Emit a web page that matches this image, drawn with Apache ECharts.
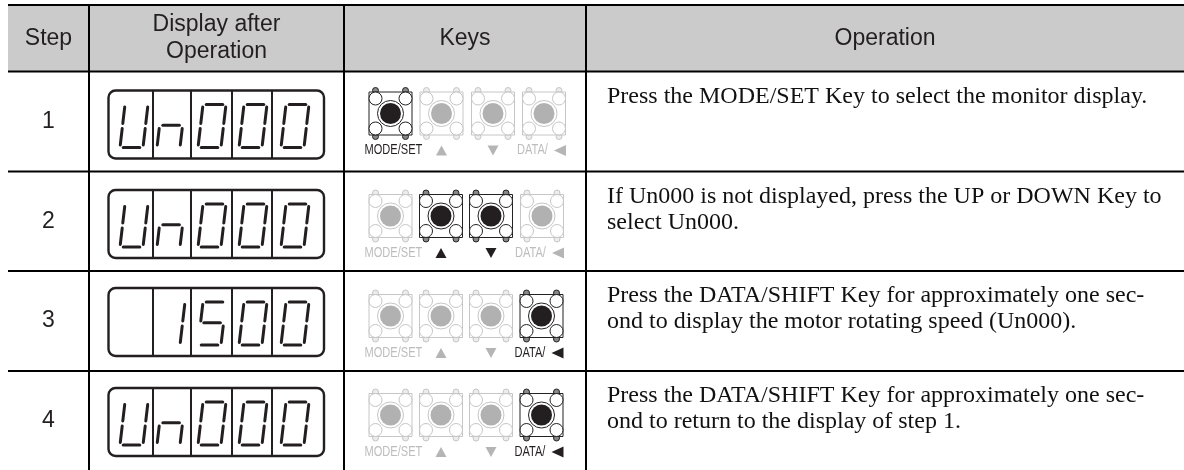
<!DOCTYPE html>
<html>
<head>
<meta charset="utf-8">
<style>
  html, body { margin: 0; padding: 0; background: #fff; }
  #chart { width: 1184px; height: 470px; }
</style>
</head>
<body>
<div id="chart"></div>
<script src="https://cdn.jsdelivr.net/npm/echarts@6/dist/echarts.min.js"></script>
<script>
const headers = ['Step', 'Display after\nOperation', 'Keys', 'Operation']
const steps = ['1', '2', '3', '4']
const displays = ['Un000', 'Un000', ' 1500', 'Un000']
const activeKeys = [
  [1, 0, 0, 0],
  [0, 1, 1, 0],
  [0, 0, 0, 1],
  [0, 0, 0, 1]
]
const operations = [
  'Press the MODE/SET Key to select the monitor display.',
  'If Un000 is not displayed, press the UP or DOWN Key to\nselect Un000.',
  'Press the DATA/SHIFT Key for approximately one sec-\nond to display the motor rotating speed (Un000).',
  'Press the DATA/SHIFT Key for approximately one sec-\nond to return to the display of step 1.'
]

// layout, the axes below are 1:1 with the page pixels
const colX = [8, 89, 344, 586, 1184]
const rowY = [5, 71.5, 171.5, 271, 371, 470]
const boxX = [108.5, 324]
const boxDiv = [153, 191, 232, 272]
const digitX = [120, 157, 198, 239, 281]
const keyX = [
  [390.5, 441.5, 493, 544],
  [390.5, 441, 491, 542],
  [390.5, 441, 491, 541.5],
  [390.5, 441, 491, 541.5]
]
const keyY = [113.5, 216, 316, 415]
const boxY = [90.5, 190, 288, 388]

const INK = '#231f20'
const OFF_LINE = '#c6c6c6'
const OFF_FILL = '#b1b1b1'

// segments a..g as [u0, v0, u1, v1] inside the digit
const SEG = {
  a: [0.14, 0, 0.86, 0],
  b: [1, 0.06, 1, 0.44],
  c: [1, 0.56, 1, 0.94],
  d: [0.14, 1, 0.86, 1],
  e: [0, 0.56, 0, 0.94],
  f: [0, 0.06, 0, 0.44],
  g: [0.14, 0.48, 0.86, 0.48]
}
const GLYPH = { U: 'bcdef', n: 'ceg', 0: 'abcdef', 1: 'bc', 5: 'acdfg' }

function renderBand (params, api) {
  const a = api.coord([colX[0], rowY[0]])
  const b = api.coord([colX[4], rowY[1]])
  return { type: 'rect', shape: { x: a[0], y: a[1], width: b[0] - a[0], height: b[1] - a[1] }, style: { fill: '#cbcbcb' } }
}

function renderRules (params, api) {
  const lines = []
  rowY.slice(0, 5).forEach((y) => {
    const a = api.coord([colX[0], y])
    const b = api.coord([colX[4], y])
    lines.push({ type: 'line', shape: { x1: a[0], y1: a[1], x2: b[0], y2: b[1] }, style: { stroke: '#000', lineWidth: 2 } })
  })
  colX.slice(1, 4).forEach((x) => {
    const a = api.coord([x, rowY[0]])
    const b = api.coord([x, rowY[5]])
    lines.push({ type: 'line', shape: { x1: a[0], y1: a[1], x2: b[0], y2: b[1] }, style: { stroke: '#000', lineWidth: 2 } })
  })
  return { type: 'group', children: lines }
}

function renderHeader (params, api) {
  const i = api.value(0)
  const p = api.coord([(colX[i] + colX[i + 1]) / 2, (rowY[0] + rowY[1]) / 2])
  return {
    type: 'text',
    style: {
      x: p[0], y: p[1], text: headers[i], fill: INK, align: 'center', verticalAlign: 'middle',
      font: '23px "Liberation Sans"', lineHeight: 27
    }
  }
}

function renderStep (params, api) {
  const i = api.value(0)
  const p = api.coord([(colX[0] + colX[1]) / 2, (rowY[i + 1] + rowY[i + 2]) / 2])
  return {
    type: 'text',
    style: { x: p[0], y: p[1], text: steps[i], fill: INK, align: 'center', verticalAlign: 'middle', font: '23px "Liberation Sans"' }
  }
}

function renderOperation (params, api) {
  const i = api.value(0)
  const p = api.coord([colX[3] + 21, rowY[i + 1] + 12])
  return {
    type: 'text',
    style: {
      x: p[0], y: p[1], text: operations[i], fill: '#111', align: 'left', verticalAlign: 'top',
      font: '24px "Liberation Serif"', lineHeight: 26
    }
  }
}

function renderDisplay (params, api) {
  const i = api.value(0)
  const top = boxY[i]
  const tl = api.coord([boxX[0], top])
  const br = api.coord([boxX[1], top + 68])
  const children = [{
    type: 'rect',
    shape: { x: tl[0], y: tl[1], width: br[0] - tl[0], height: br[1] - tl[1], r: 7 },
    style: { fill: 'none', stroke: INK, lineWidth: 2.4 }
  }]
  boxDiv.forEach((x) => {
    const a = api.coord([x, top])
    const b = api.coord([x, top + 68])
    children.push({ type: 'line', shape: { x1: a[0], y1: a[1], x2: b[0], y2: b[1] }, style: { stroke: INK, lineWidth: 2 } })
  })
  displays[i].split('').forEach((ch, d) => {
    const segs = GLYPH[ch] || ''
    segs.split('').forEach((s) => {
      const [u0, v0, u1, v1] = SEG[s]
      const h = 43
      const w = 23
      const skew = 5
      const a = api.coord([digitX[d] + u0 * w + (1 - v0) * skew, top + 14 + v0 * h])
      const b = api.coord([digitX[d] + u1 * w + (1 - v1) * skew, top + 14 + v1 * h])
      children.push({
        type: 'line',
        shape: { x1: a[0], y1: a[1], x2: b[0], y2: b[1] },
        style: { stroke: INK, lineWidth: 3, lineCap: 'round' }
      })
    })
  })
  return { type: 'group', children }
}

function renderKey (params, api) {
  const row = api.value(0)
  const k = api.value(1)
  const on = api.value(2) === 1
  const line = on ? '#222' : OFF_LINE
  const c = api.coord([keyX[row][k], keyY[row]])
  const children = []
  ;[-15, 15].forEach((dx) => {
    ;[-1, 1].forEach((sy) => {
      // pin stub first so the corner circle sits on top of it
      children.push({
        type: 'rect',
        shape: { x: c[0] + dx - 3, y: c[1] + (sy < 0 ? -26 : 20), width: 6, height: 6, r: 3 },
        style: { fill: on ? '#888' : '#ececec', stroke: line, lineWidth: 1 }
      })
    })
  })
  children.push({
    type: 'rect',
    shape: { x: c[0] - 21.5, y: c[1] - 21.5, width: 43, height: 43 },
    style: { fill: '#fff', stroke: line, lineWidth: 1 }
  })
  ;[-15, 15].forEach((dx) => {
    ;[-15, 15].forEach((dy) => {
      children.push({
        type: 'circle',
        shape: { cx: c[0] + dx, cy: c[1] + dy, r: 6.5 },
        style: { fill: '#fff', stroke: line, lineWidth: 1 }
      })
    })
  })
  children.push({ type: 'circle', shape: { cx: c[0], cy: c[1], r: 13 }, style: { fill: '#fff', stroke: line, lineWidth: 1 } })
  children.push({ type: 'circle', shape: { cx: c[0], cy: c[1], r: 10.5 }, style: { fill: on ? INK : OFF_FILL } })

  // legend under the key, squeezed to look like the narrow label face
  const ly = c[1] + 37
  const labelFill = on ? INK : '#bdbdbd'
  const markFill = on ? INK : '#b5b5b5'
  const label = (text, x) => ({
    type: 'text',
    x,
    y: ly,
    scaleX: 0.79,
    style: { x: 0, y: 0, text, fill: labelFill, font: '14px "Liberation Sans"', align: 'left', verticalAlign: 'middle' }
  })
  if (k === 0) {
    children.push(label('MODE/SET', c[0] - 26))
  } else if (k === 1) {
    children.push({ type: 'polygon', shape: { points: [[c[0] - 5.5, ly + 5], [c[0] + 5.5, ly + 5], [c[0], ly - 5]] }, style: { fill: markFill } })
  } else if (k === 2) {
    children.push({ type: 'polygon', shape: { points: [[c[0] - 5.5, ly - 5], [c[0] + 5.5, ly - 5], [c[0], ly + 5]] }, style: { fill: markFill } })
  } else {
    children.push(label('DATA/', c[0] - 27))
    children.push({ type: 'polygon', shape: { points: [[c[0] + 22, ly - 5.5], [c[0] + 22, ly + 5.5], [c[0] + 10, ly]] }, style: { fill: markFill } })
  }
  return { type: 'group', children }
}

const keyData = []
activeKeys.forEach((row, r) => row.forEach((on, k) => keyData.push([r, k, on])))

const chart = echarts.init(document.getElementById('chart'), null, { renderer: 'canvas' })
const layer = (renderItem, data, z) => ({
  type: 'custom', renderItem, data, z, silent: true, animation: false, clip: false,
  encode: { x: 0, y: 1 }
})

chart.setOption({
  animation: false,
  backgroundColor: '#fff',
  grid: { left: 0, right: 0, top: 0, bottom: 0 },
  xAxis: { type: 'value', min: 0, max: 1184, show: false },
  yAxis: { type: 'value', min: 0, max: 470, inverse: true, show: false },
  series: [
    layer(renderBand, [[0, 0]], 1),
    layer(renderRules, [[0, 0]], 2),
    layer(renderHeader, headers.map((h, i) => [i, 0]), 3),
    layer(renderStep, steps.map((s, i) => [i, 0]), 3),
    layer(renderDisplay, displays.map((d, i) => [i, 0]), 3),
    layer(renderKey, keyData, 3),
    layer(renderOperation, operations.map((o, i) => [i, 0]), 3)
  ]
})
</script>
</body>
</html>
